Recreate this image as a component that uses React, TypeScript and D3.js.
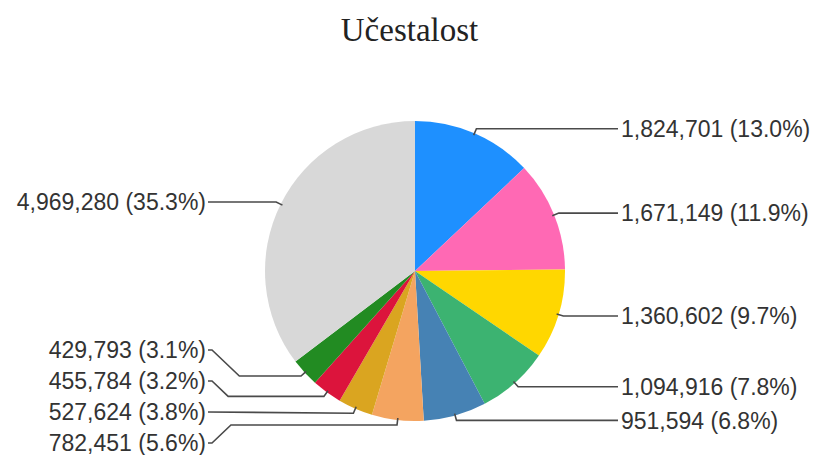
import React from "react";
import * as d3 from "d3";

const title = "Učestalost";
const values = [1824701, 1671149, 1360602, 1094916, 951594, 782451, 527624, 455784, 429793, 4969280];
const colors = [
  "#1e90ff", "#ff69b4", "#ffd700", "#3cb371", "#4682b4",
  "#f4a460", "#daa520", "#dc143c", "#228b22", "#d8d8d8",
];

const W = 819;
const H = 455;
const cx = 415;
const cy = 271;
const R = 150;
const SPACING = 31;

type Item = { i: number; d: number };

function layoutSide(items: Item[], minY: number, maxY: number): Map<number, number> {
  const sorted = [...items].sort((a, b) => a.d - b.d);
  type Cluster = { members: Item[]; top: number };
  const place = (c: Cluster) => {
    const n = c.members.length;
    const mean = d3.mean(c.members, (m) => m.d) as number;
    let top = mean - ((n - 1) * SPACING) / 2;
    top = Math.max(minY, Math.min(maxY - (n - 1) * SPACING, top));
    c.top = top;
  };
  const clusters: Cluster[] = sorted.map((m) => ({ members: [m], top: m.d }));
  clusters.forEach(place);
  let changed = true;
  while (changed) {
    changed = false;
    for (let k = 0; k < clusters.length - 1; k++) {
      const a = clusters[k];
      const b = clusters[k + 1];
      if (a.top + a.members.length * SPACING > b.top) {
        a.members = a.members.concat(b.members);
        place(a);
        clusters.splice(k + 1, 1);
        changed = true;
        break;
      }
    }
  }
  const res = new Map<number, number>();
  clusters.forEach((c) => c.members.forEach((m, j) => res.set(m.i, c.top + j * SPACING)));
  return res;
}

export default function App() {
  const total = d3.sum(values);
  const pie = d3.pie<number>().sort(null).value((v) => v)(values);
  const arc = d3.arc<d3.PieArcDatum<number>>().innerRadius(0).outerRadius(R);
  const fmtN = d3.format(",");
  const fmtP = d3.format(".1%");

  const info = pie.map((p, i) => {
    const mid = (p.startAngle + p.endAngle) / 2;
    const s = Math.sin(mid);
    const c = Math.cos(mid);
    const right = s >= 0;
    const p1 = [cx + (R - 2) * s, cy - (R - 2) * c];
    const p2 = [cx + (R + 5) * s, cy - (R + 5) * c];
    return { i, mid, right, p1, p2 };
  });

  const rightY = layoutSide(info.filter((d) => d.right).map((d) => ({ i: d.i, d: d.p2[1] })), 14, H - 12);
  const leftY = layoutSide(info.filter((d) => !d.right).map((d) => ({ i: d.i, d: d.p2[1] })), 14, H - 12);

  const line = d3.line();

  return (
    <svg width={W} height={H} style={{ position: "absolute", left: 0, top: 0, background: "#fff" }}>
      <text x={W / 2} y={41} textAnchor="middle" fontFamily="'Liberation Serif', 'Times New Roman', serif" fontSize={33} fill="#222">
        {title}
      </text>
      <g transform={`translate(${cx},${cy})`}>
        {pie.map((p, i) => (
          <path key={i} d={arc(p) as string} fill={colors[i]} />
        ))}
      </g>
      {info.map((d) => {
        const ly = (d.right ? rightY.get(d.i) : leftY.get(d.i)) as number;
        const sgn = d.right ? -1 : 1; // direction toward pie
        const lineEnd = d.right ? cx + 203 : cx - 207;
        const textX = d.right ? cx + 206 : cx - 209;
        const dy = ly - d.p2[1];
        const pts: [number, number][] = [[d.p1[0], d.p1[1]], [d.p2[0], d.p2[1]]];
        if (Math.abs(dy) > 1.5) {
          const tip = lineEnd + sgn * 4;
          const elbow = tip + sgn * Math.abs(dy) * 1.05;
          pts.push([elbow, d.p2[1]]);
          pts.push([tip, ly]);
          pts.push([lineEnd, ly]);
        } else {
          pts.push([lineEnd, ly]);
        }
        const v = values[d.i];
        return (
          <g key={d.i}>
            <path d={line(pts) as string} fill="none" stroke="#4a4a4a" strokeWidth={1.6} />
            <text
              x={textX}
              y={ly}
              dy="0.36em"
              textAnchor={d.right ? "start" : "end"}
              fontFamily="'Liberation Sans', Arial, sans-serif"
              fontSize={23}
              fill="#333"
            >
              {`${fmtN(v)} (${fmtP(v / total)})`}
            </text>
          </g>
        );
      })}
    </svg>
  );
}
